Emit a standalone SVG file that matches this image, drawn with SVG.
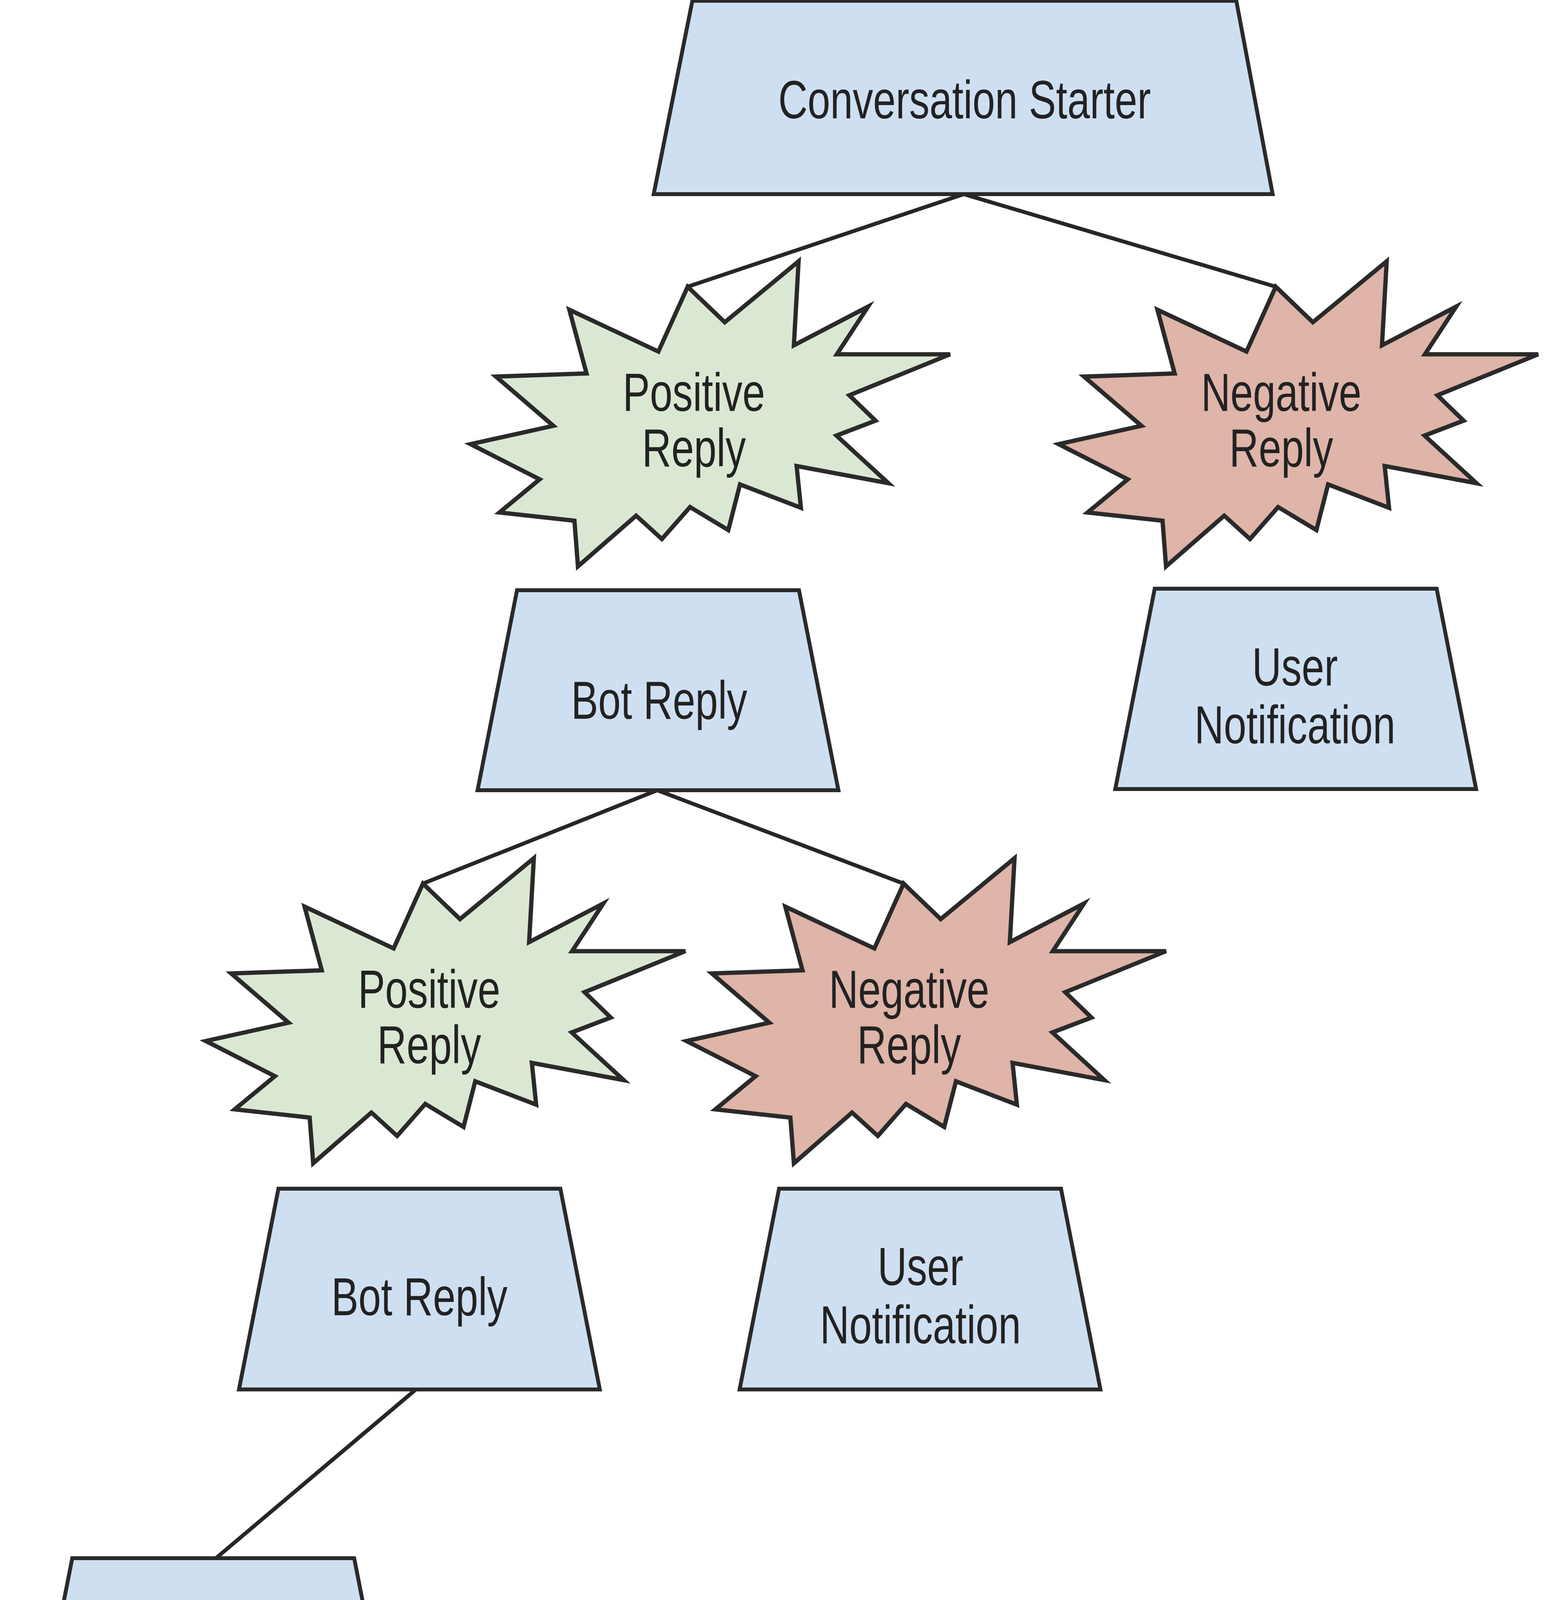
<svg xmlns="http://www.w3.org/2000/svg" width="3959" height="4513" viewBox="0 0 3959 4513">
<style>
.trap{fill:#cfdff2;stroke:#2a2a2a;stroke-width:10;stroke-linejoin:miter}
.pos{fill:#dae8d3;stroke:#2a2a2a;stroke-width:11;stroke-linejoin:miter}
.neg{fill:#dfb4a9;stroke:#2a2a2a;stroke-width:11;stroke-linejoin:miter}
.t{font-family:"Liberation Sans",Arial,sans-serif;font-size:138px;fill:#222;text-anchor:middle}
.conn{fill:none;stroke:#262626;stroke-width:10;stroke-linecap:round}
</style>
<defs>
<path id="star" d="M0,0 L95,91 L284,-65 L272,150 L462,51 L382,173 L672,173 L414,278 L481,343 L381,381 L514,503 L279,459 L290,566 L134,506 L104,623 L6,564 L-66,646 L-132,586 L-281,716 L-290,599 L-482,578 L-379,493 L-556,403 L-344,356 L-491,230 L-259,222 L-303,59 L-75,166 Z"/>
</defs>
<rect width="3959" height="4513" fill="#ffffff"/>
<g id="connectors">
<line class="conn" x1="2468" y1="497" x2="1761" y2="734"/>
<line class="conn" x1="2468" y1="497" x2="3267" y2="734"/>
<line class="conn" x1="1683" y1="2023" x2="1083" y2="2262"/>
<line class="conn" x1="1683" y1="2023" x2="2314" y2="2262"/>
<line class="conn" x1="1065" y1="3557" x2="553" y2="3989"/>
</g>
<g id="conversation-starter">
<polygon class="trap" points="1773,2 3166,2 3259,497 1674,497"/>
<text class="t" transform="translate(2470 303) scale(0.754 1)">Conversation Starter</text>
</g>
<g id="positive-reply-1" transform="translate(1761 734)">
<use href="#star" class="pos"/>
<text class="t" transform="translate(16 318) scale(0.754 1)">Positive</text>
<text class="t" transform="translate(16 460) scale(0.754 1)">Reply</text>
</g>
<g id="negative-reply-1" transform="translate(3267 734)">
<use href="#star" class="neg"/>
<text class="t" transform="translate(14 318) scale(0.754 1)">Negative</text>
<text class="t" transform="translate(14 460) scale(0.754 1)">Reply</text>
</g>
<g id="bot-reply-1">
<polygon class="trap" points="1324,1511 2046,1511 2147,2023 1223,2023"/>
<text class="t" transform="translate(1688 1840) scale(0.754 1)">Bot Reply</text>
</g>
<g id="user-notification-1">
<polygon class="trap" points="2957,1507 3679,1507 3780,2020 2856,2020"/>
<text class="t" transform="translate(3316 1755) scale(0.754 1)">User</text>
<text class="t" transform="translate(3316 1903) scale(0.754 1)">Notification</text>
</g>
<g id="positive-reply-2" transform="translate(1083 2262)">
<use href="#star" class="pos"/>
<text class="t" transform="translate(16 318) scale(0.754 1)">Positive</text>
<text class="t" transform="translate(16 460) scale(0.754 1)">Reply</text>
</g>
<g id="negative-reply-2" transform="translate(2314 2262)">
<use href="#star" class="neg"/>
<text class="t" transform="translate(14 318) scale(0.754 1)">Negative</text>
<text class="t" transform="translate(14 460) scale(0.754 1)">Reply</text>
</g>
<g id="bot-reply-2">
<polygon class="trap" points="713,3043 1435,3043 1536,3557 612,3557"/>
<text class="t" transform="translate(1074 3367) scale(0.754 1)">Bot Reply</text>
</g>
<g id="user-notification-2">
<polygon class="trap" points="1995,3043 2717,3043 2818,3557 1894,3557"/>
<text class="t" transform="translate(2357 3290) scale(0.754 1)">User</text>
<text class="t" transform="translate(2357 3439) scale(0.754 1)">Notification</text>
</g>
<g id="user-notification-3">
<polygon class="trap" points="185,3989 907,3989 1008,4503 84,4503"/>
<text class="t" transform="translate(546 4237) scale(0.754 1)">User</text>
<text class="t" transform="translate(546 4385) scale(0.754 1)">Notification</text>
</g>
</svg>
